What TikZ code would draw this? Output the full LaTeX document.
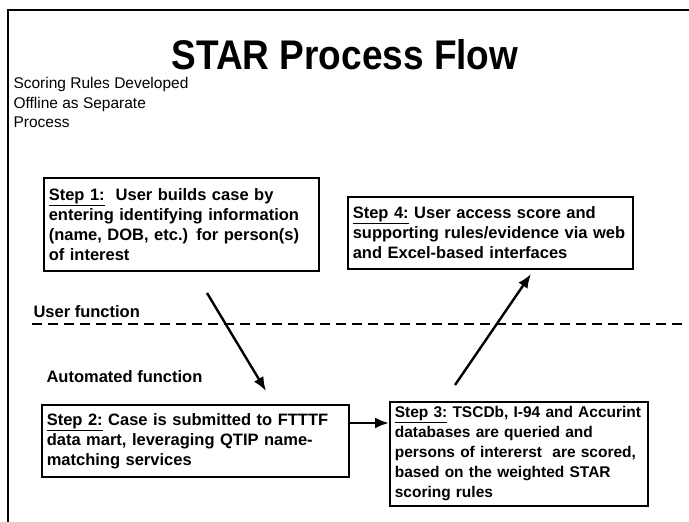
\documentclass[tikz,border=0pt]{standalone}
\usepackage{fontspec}
\setmainfont{Liberation Sans}
\usetikzlibrary{arrows.meta}

\begin{document}
\begin{tikzpicture}[x=1pt,y=-1pt,
    stepbox/.style={draw=black,line width=1.6pt,anchor=north west,align=left,
        inner xsep=5pt,inner ysep=4pt,font=\fontsize{16.5}{20}\selectfont\bfseries},
    flow/.style={line width=2.4pt,-{Latex[length=14pt,width=11pt]}}]
    \useasboundingbox (0,0) rectangle (689,522);
    \draw[line width=1.4pt] (8,530) -- (8,10) -- (700,10);

    \node (title) at (345,55) {\scalebox{1}[1.12]{\fontsize{37}{40}\selectfont\bfseries STAR Process Flow}};
    \node[anchor=north west,align=left,font=\fontsize{15.5}{19.5}\selectfont] (offline) at (10,74)
        {Scoring Rules Developed\\Offline as Separate\\Process};

    \node[stepbox,text width=265pt,minimum height=93pt] (step1) at (43,177)
        {\underline{Step 1:}\ \ User builds case by\\entering identifying information\\(name, DOB, etc.) for person(s)\\of interest};
    \node[stepbox,text width=275pt,minimum height=72pt] (step4) at (347,196)
        {\underline{Step 4:} User access score and\\supporting rules/evidence via web\\and Excel-based interfaces};
    \node[stepbox,text width=297pt,minimum height=72pt] (step2) at (41,404)
        {\underline{Step 2:} Case is submitted to FTTTF\\data mart, leveraging QTIP name-\\matching services};
    \node[stepbox,text width=248pt,minimum height=104pt,font=\fontsize{15.5}{20}\selectfont\bfseries] (step3) at (389,401)
        {\mbox{\underline{Step 3:} TSCDb, I-94 and Accurint}\\databases are queried and\\persons of intererst\ \ are scored,\\based on the weighted STAR\\scoring rules};

    \node[anchor=west,font=\fontsize{16.5}{18}\selectfont\bfseries] (user) at (30,312) {User function};
    \node[anchor=west,font=\fontsize{16.5}{18}\selectfont\bfseries] (auto) at (43,377) {Automated function};
    \coordinate (lineL) at (32,324);
    \coordinate (lineR) at (682,324);
    \draw[line width=2pt,dash pattern=on 10pt off 6pt] (lineL) -- (lineR);

    \coordinate (a1) at (207,293);
    \coordinate (a2) at (266,391);
    \coordinate (b1) at (455,385);
    \coordinate (b2) at (531,274);
    \coordinate (c1) at (348,423);
    \draw[flow] (a1) -- (a2);
    \draw[flow] (b1) -- (b2);
    \draw[flow] (c1) -- (c1 -| step3.west);
\end{tikzpicture}
\end{document}
